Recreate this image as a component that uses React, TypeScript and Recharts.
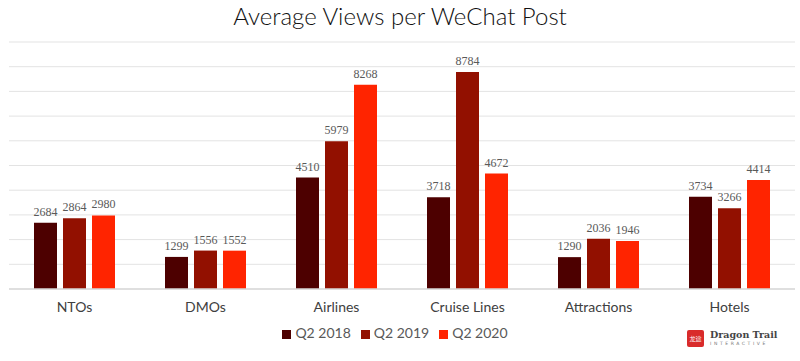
import React from 'react';
import { BarChart, Bar, XAxis, YAxis, CartesianGrid, Legend, LabelList } from 'recharts';

const categories = ['NTOs', 'DMOs', 'Airlines', 'Cruise Lines', 'Attractions', 'Hotels'];
const q2018 = [2684, 1299, 4510, 3718, 1290, 3734];
const q2019 = [2864, 1556, 5979, 8784, 2036, 3266];
const q2020 = [2980, 1552, 8268, 4672, 1946, 4414];
const yTicks = [0, 1000, 2000, 3000, 4000, 5000, 6000, 7000, 8000, 9000, 10000];

const data = categories.map((name, i) => ({
  name,
  q2018: q2018[i],
  q2019: q2019[i],
  q2020: q2020[i],
}));

const labelStyle = { fontFamily: '"Liberation Serif", "DejaVu Serif", serif', fontSize: 12, fill: '#595959' };

function Logo() {
  return (
    <div style={{ position: 'absolute', left: 687, top: 329, display: 'flex', alignItems: 'center' }}>
      <div
        style={{
          width: 17,
          height: 17,
          background: '#d92b2b',
          borderRadius: 2,
          color: '#fff',
          fontSize: 6,
          lineHeight: '17px',
          textAlign: 'center',
          fontFamily: '"Noto Sans CJK SC", sans-serif',
          overflow: 'hidden',
        }}
      >
        龙途
      </div>
      <div style={{ marginLeft: 6 }}>
        <div style={{ fontFamily: '"DejaVu Serif", serif', fontWeight: 'bold', fontSize: 9.5, color: '#444', lineHeight: '11px' }}>
          Dragon Trail
        </div>
        <div style={{ fontFamily: '"DejaVu Sans", sans-serif', fontSize: 4.5, letterSpacing: 2.6, color: '#777', lineHeight: '7px' }}>
          INTERACTIVE
        </div>
      </div>
    </div>
  );
}

export default function App() {
  return (
    <div style={{ position: 'fixed', left: 0, top: 0, width: 800, height: 361, background: '#fff' }}>
      <div
        style={{
          position: 'absolute',
          top: 1,
          width: 800,
          textAlign: 'center',
          fontFamily: 'Lato, "DejaVu Sans", sans-serif',
          fontWeight: 300,
          fontSize: 24,
          color: '#111',
        }}
      >
        Average Views per WeChat Post
      </div>
      <BarChart
        width={800}
        height={361}
        data={data}
        margin={{ top: 42, right: 5, left: 9, bottom: 0 }}
        barSize={23}
        barGap={6}
      >
        <CartesianGrid vertical={false} stroke="#e3e3e3" />
        <YAxis hide domain={[0, 10000]} ticks={yTicks} />
        <XAxis
          dataKey="name"
          axisLine={{ stroke: '#d9d9d9', strokeWidth: 1.5 }}
          tickLine={false}
          height={55}
          tick={{ fontFamily: 'Lato, "DejaVu Sans", sans-serif', fontSize: 14, fill: '#404040' }}
          tickMargin={7}
        />
        <Legend
          iconType="square"
          iconSize={9}
          wrapperStyle={{ top: 324, left: 0, width: 800, fontFamily: 'Lato, "DejaVu Sans", sans-serif', fontSize: 14 }}
          formatter={(v) => <span style={{ color: '#595959' }}>{v}</span>}
        />
        <Bar dataKey="q2018" name="Q2 2018" fill="#4d0000" isAnimationActive={false}>
          <LabelList dataKey="q2018" position="top" offset={7} style={labelStyle} />
        </Bar>
        <Bar dataKey="q2019" name="Q2 2019" fill="#921000" isAnimationActive={false}>
          <LabelList dataKey="q2019" position="top" offset={7} style={labelStyle} />
        </Bar>
        <Bar dataKey="q2020" name="Q2 2020" fill="#ff2400" isAnimationActive={false}>
          <LabelList dataKey="q2020" position="top" offset={7} style={labelStyle} />
        </Bar>
      </BarChart>
      <Logo />
    </div>
  );
}
